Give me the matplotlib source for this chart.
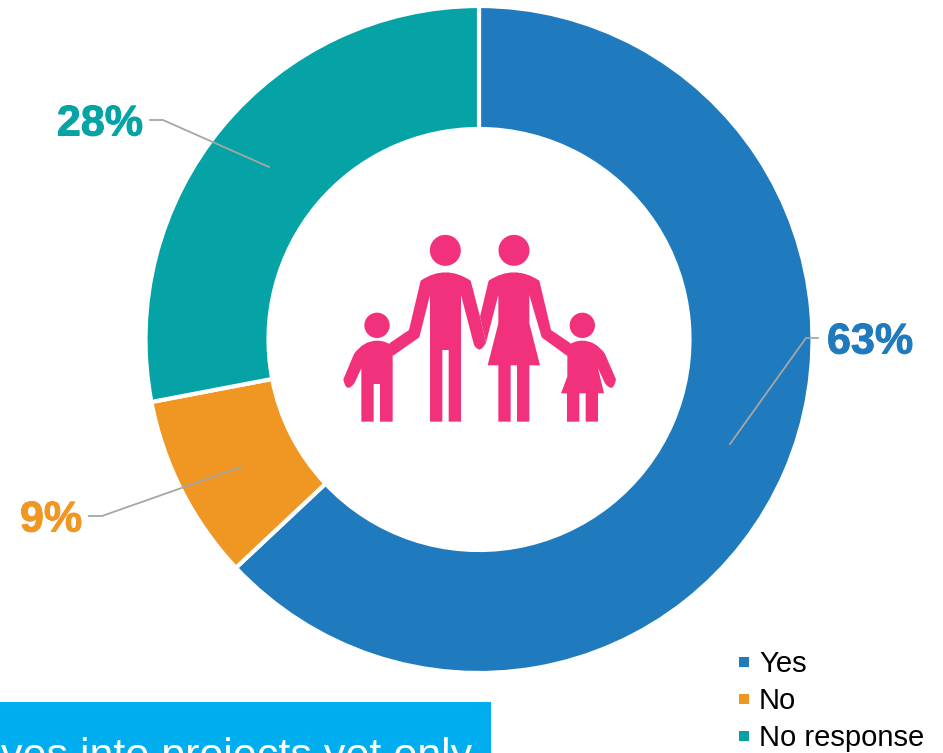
import matplotlib
matplotlib.use("Agg")
import matplotlib.pyplot as plt
import matplotlib.patheffects as pe
from matplotlib.patches import Circle, PathPatch, Rectangle
from matplotlib.path import Path

W, H = 943, 753
categories = ["Yes", "No", "No response"]
shares = [63, 9, 28]
share_labels = ["63%", "9%", "28%"]
colors = ["#1F7BBD", "#F09723", "#05A3A5"]
PINK = "#F2317C"
BANNER = "#00AEEF"
LEADER = "#A6A6A6"

plt.rcParams["font.family"] = ["Liberation Sans", "DejaVu Sans"]

fig = plt.figure(figsize=(W / 100, H / 100), dpi=100)
ax = fig.add_axes([0, 0, 1, 1])


def py(y):
    """Convert a distance from the top edge to the upward axis used here."""
    return H - y


# Donut
ax.pie(shares, colors=colors, startangle=90, counterclock=False,
       center=(479, py(339.5)), radius=333.5, frame=True,
       wedgeprops=dict(width=123, edgecolor="white", linewidth=3))
ax.set_xlim(0, W)
ax.set_ylim(0, H)
ax.set_aspect("auto")
ax.axis("off")

# Leader lines and percentage labels
leaders = [
    [(818, 338), (806, 338), (730, 444)],
    [(89, 516), (102, 516), (241, 467)],
    [(150, 120), (163, 120), (269, 167)],
]
label_spots = [(870, 338), (51, 516), (100, 120)]
for pts, spot, text, color in zip(leaders, label_spots, share_labels, colors):
    ax.plot([p[0] for p in pts], [py(p[1]) for p in pts], color=LEADER, lw=1.3, zorder=4)
    ax.text(spot[0], py(spot[1]), text, color=color, fontsize=31, fontweight="bold",
            ha="center", va="center_baseline", zorder=5,
            path_effects=[pe.withStroke(linewidth=0.7, foreground=color)])


# Family pictogram, outlined on a 3x grid anchored at (330, 220)
def ix(x):
    return 330 + x / 3


def iy(y):
    return py(220 + y / 3)


def shape(points):
    """Filled outline; a point tagged 'c' acts as a quadratic control point."""
    verts, codes = [], []
    for i, p in enumerate(points):
        verts.append((ix(p[0]), iy(p[1])))
        if i == 0:
            codes.append(Path.MOVETO)
        elif len(p) == 3:
            codes.append(Path.CURVE3)
        else:
            prev_ctrl = len(points[i - 1]) == 3
            codes.append(Path.CURVE3 if prev_ctrl else Path.LINETO)
    verts.append(verts[0])
    codes.append(Path.CLOSEPOLY)
    ax.add_patch(PathPatch(Path(verts, codes), facecolor=PINK, edgecolor="none", zorder=6))


for cx, cy, r in [(346, 91, 46.5), (552, 91, 46.5), (141, 316, 38), (757, 316, 38)]:
    ax.add_patch(Circle((ix(cx), iy(cy)), r / 3, facecolor=PINK, edgecolor="none", zorder=6))

# Father
shape([(272, 182), (346, 132, "c"), (422, 182), (450, 290), (468, 368), (450, 405, "c"), (432, 375),
       (393, 225), (393, 605), (356, 605), (356, 390), (337, 390), (337, 605), (300, 605),
       (300, 225), (268, 352), (188, 408), (178, 370), (237, 330)])
# Mother
shape([(476, 182), (552, 132, "c"), (628, 182), (663, 330), (722, 370), (712, 408), (635, 352),
       (598, 225), (598, 310), (630, 436), (598, 436), (598, 605), (561, 605), (561, 436),
       (542, 436), (542, 605), (505, 605), (505, 436), (473, 436), (505, 310), (505, 225),
       (468, 368), (450, 290)])
# Son
shape([(72, 402), (100, 362, "c"), (141, 362), (170, 362, "c"), (188, 380), (188, 605), (150, 605),
       (150, 492), (131, 492), (131, 605), (94, 605), (94, 445), (73, 490), (48, 522, "c"), (40, 478)])
# Daughter
shape([(825, 402), (798, 362, "c"), (757, 362), (728, 362, "c"), (712, 380), (712, 470), (693, 520),
       (711, 520), (711, 605), (748, 605), (748, 520), (767, 520), (767, 605), (804, 605),
       (804, 520), (822, 520), (804, 445), (825, 490), (850, 522, "c"), (858, 478)])

# Legend
legend_rows = [661, 698, 735]
for cat, color, y in zip(categories, colors, legend_rows):
    ax.add_patch(Rectangle((739, py(y + 6)), 10, 10, facecolor=color, edgecolor="none", zorder=6))
    ax.text(759, py(y), cat, color="black", fontsize=21, ha="left", va="center_baseline", zorder=6)

# Banner cut off by the bottom edge
ax.add_patch(Rectangle((0, 0), 491, py(702), facecolor=BANNER, edgecolor="none", zorder=6))
ax.text(1, py(768), "ves into projects yet only", color="white", fontsize=31,
        ha="left", va="baseline", zorder=7, clip_on=False)

fig.savefig("out.png", dpi=100, facecolor="white")
